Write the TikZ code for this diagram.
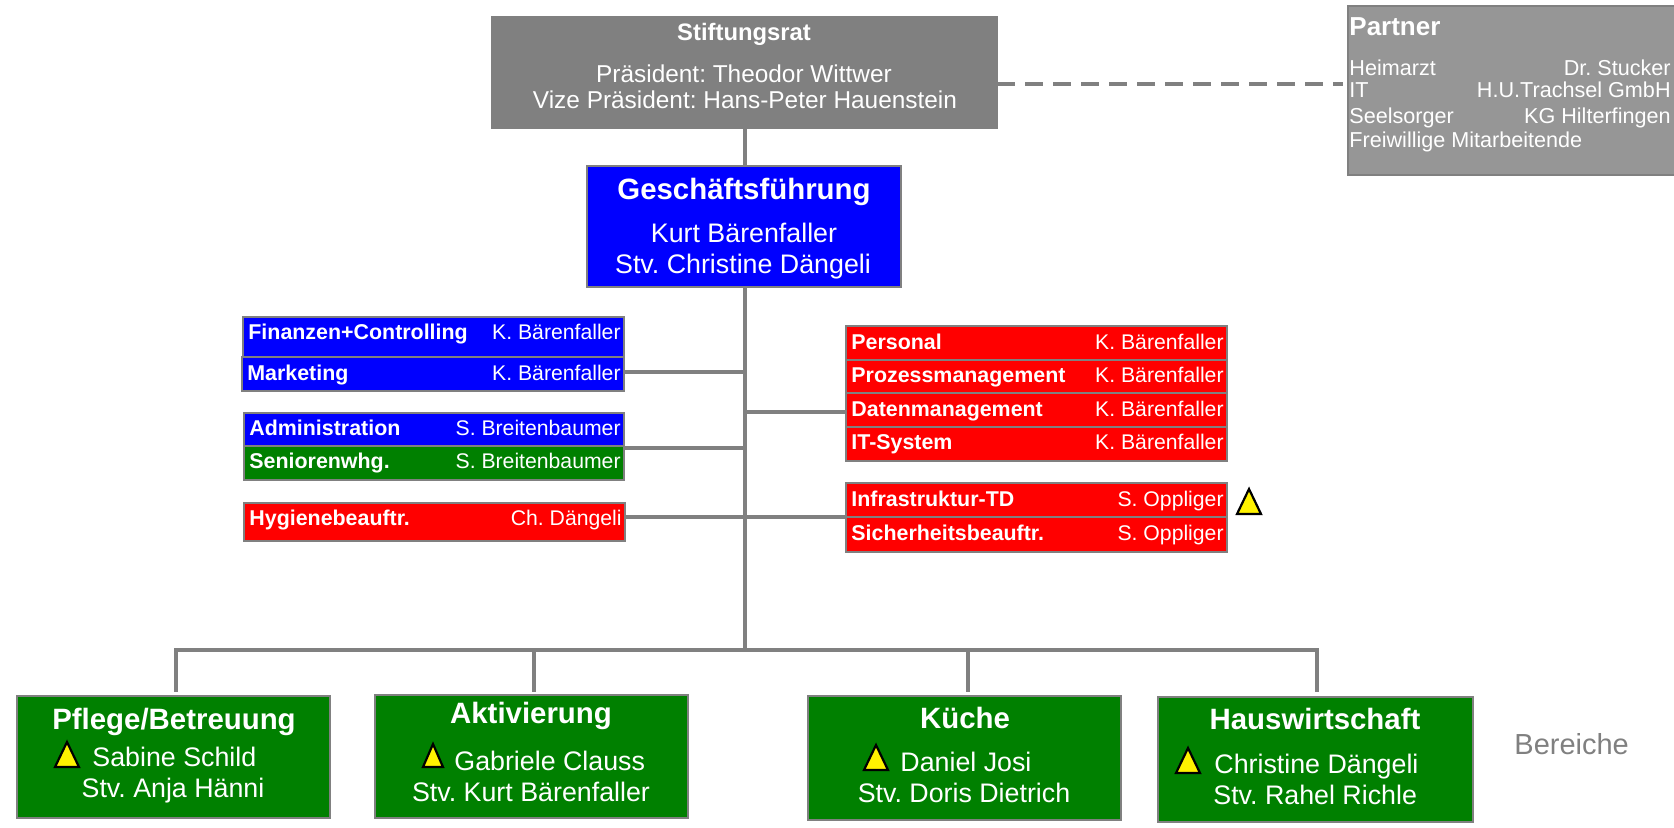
\documentclass[tikz,border=0pt]{standalone}
\usepackage{fontspec}
\setmainfont{Liberation Sans}
\usepackage{xcolor}
\definecolor{orggray}{HTML}{808080}
\definecolor{partnergray}{HTML}{969696}
\definecolor{orgblue}{HTML}{0000FF}
\definecolor{orgred}{HTML}{FF0000}
\definecolor{orggreen}{HTML}{008000}
\tikzset{
    orgbox/.style={draw=orggray, line width=1pt, rectangle, inner sep=0pt, outer sep=0pt},
    orgline/.style={draw=orggray, line width=1.9pt},
    warnmark/.style={draw=black, line width=1.1pt, fill=yellow, line join=miter},
    rowname/.style={anchor=mid west, inner sep=0pt, yshift=-1.5pt, text=white, font=\fontsize{10.7}{13}\selectfont\bfseries},
    rowwho/.style={anchor=mid east, inner sep=0pt, yshift=-1.5pt, text=white, font=\fontsize{10.6}{13}\selectfont},
    partnerrow/.style={inner sep=0pt, yshift=-1pt, text=white, font=\fontsize{10.8}{13}\selectfont},
    headline/.style={anchor=mid, inner sep=0pt, yshift=-2.6pt, text=white, font=\fontsize{14.7}{17}\selectfont\bfseries},
    subline/.style={anchor=mid, inner sep=0pt, yshift=-2pt, text=white, font=\fontsize{13.4}{16}\selectfont},
}

\begin{document}
\frenchspacing
\begin{tikzpicture}[x=0.5pt, y=-0.5pt]
    \useasboundingbox (0, 0) rectangle (1674, 827);

    % big boxes
    \foreach \nm/\xa/\ya/\xb/\yb/\col in {
            stiftung/492/17/997/128/orggray, partner/1348/6/1680/175/partnergray,
            gf/587/166/901/287/orgblue,
            pflege/17/696/330/818/orggreen, aktiv/375/695/688/818/orggreen,
            kueche/808/696/1121/820/orggreen, haus/1158/697/1473/822/orggreen}{
            \node[orgbox, fill=\col, minimum width={(\xb-\xa)*0.5pt}, minimum height={(\yb-\ya)*0.5pt}] (\nm) at ({(\xa+\xb)/2}, {(\ya+\yb)/2}) {};
        }

    % rows beside the trunk
    \foreach \nm/\xa/\ya/\xb/\yb/\col/\lab/\who/\ty in {
            finanzen/243/317/624/357/orgblue/Finanzen+Controlling/K. Bärenfaller/331,
            marketing/242/357/624/391/orgblue/Marketing/K. Bärenfaller/372,
            admin/244/413/624/446/orgblue/Administration/S. Breitenbaumer/427,
            senioren/244/446/624/480/orggreen/Seniorenwhg./S. Breitenbaumer/460,
            hygiene/244/503/625/541/orgred/Hygienebeauftr./Ch. Dängeli/517,
            personal/846/326/1227/360/orgred/Personal/K. Bärenfaller/341,
            prozess/846/360/1227/393/orgred/Prozessmanagement/K. Bärenfaller/374,
            daten/846/393/1227/427/orgred/Datenmanagement/K. Bärenfaller/408,
            itsys/846/427/1227/461/orgred/IT-System/K. Bärenfaller/441,
            infra/846/483/1227/517/orgred/Infrastruktur-TD/S. Oppliger/498,
            sicher/846/517/1227/552/orgred/Sicherheitsbeauftr./S. Oppliger/532}{
            \node[orgbox, fill=\col, minimum width={(\xb-\xa)*0.5pt}, minimum height={(\yb-\ya)*0.5pt}] (\nm) at ({(\xa+\xb)/2}, {(\ya+\yb)/2}) {};
            \node[rowname] (\nm-name) at (\xa+5, \ty) {\lab};
            \node[rowwho] (\nm-who) at (\xb-3, \ty) {\who};
        }

    % box texts
    \node[headline, yshift=1.4pt, font=\fontsize{11.9}{14}\selectfont\bfseries] (stiftung-head) at (744, 33) {Stiftungsrat};
    \node[subline, font=\fontsize{12.2}{14}\selectfont] (stiftung-a) at (744, 73) {Präsident: Theodor Wittwer};
    \node[subline, font=\fontsize{12.2}{14}\selectfont] (stiftung-b) at (745, 99) {Vize Präsident: Hans-Peter Hauenstein};
    \node[headline] (gf-head) at (744, 189) {Geschäftsführung};
    \node[subline] (gf-a) at (744, 233) {Kurt Bärenfaller};
    \node[subline] (gf-b) at (743, 264) {Stv. Christine Dängeli};

    \node[headline] (pflege-head) at (174, 719) {Pflege/Betreuung};
    \node[subline, anchor=mid west] (pflege-a) at (92, 757) {Sabine Schild};
    \node[subline] (pflege-b) at (173, 788) {Stv. Anja Hänni};
    \node[headline] (aktiv-head) at (531, 713) {Aktivierung};
    \node[subline, anchor=mid west] (aktiv-a) at (454, 761) {Gabriele Clauss};
    \node[subline] (aktiv-b) at (531, 792) {Stv. Kurt Bärenfaller};
    \node[headline] (kueche-head) at (965, 718) {Küche};
    \node[subline, anchor=mid west] (kueche-a) at (900, 762) {Daniel Josi};
    \node[subline] (kueche-b) at (964, 793) {Stv. Doris Dietrich};
    \node[headline] (haus-head) at (1315, 719) {Hauswirtschaft};
    \node[subline, anchor=mid west] (haus-a) at (1214, 764) {Christine Dängeli};
    \node[subline, anchor=mid west] (haus-b) at (1213, 795) {Stv. Rahel Richle};
    \node[subline, yshift=-0.5pt, text=orggray, font=\fontsize{14.5}{17}\selectfont, anchor=mid west] (bereiche) at (1514, 744) {Bereiche};

    \node[partnerrow, yshift=-0.5pt, anchor=mid west, text=white, font=\fontsize{13}{15}\selectfont\bfseries] (partner-head) at (1349, 27) {Partner};
    \foreach \nm/\lab/\who/\ty in {
            arzt/Heimarzt/Dr. Stucker/68, it/IT/H.U.Trachsel GmbH/90,
            seel/Seelsorger/KG Hilterfingen/116}{
            \node[partnerrow, anchor=mid west] (\nm-l) at (1349, \ty) {\lab};
            \node[partnerrow, anchor=mid east] (\nm-r) at (1671, \ty) {\who};
        }
    \node[partnerrow, anchor=mid west] (freiw) at (1349, 140) {Freiwillige Mitarbeitende};

    % warning marks
    \foreach \tx/\tb/\th/\tw in {1249/514/25/12, 67/767/25/12, 433/767/23/10, 876/770/25/12, 1188/773/25/12}{
            \draw[warnmark] (\tx-\tw, \tb) -- (\tx, \tb-\th) -- (\tx+\tw, \tb) -- cycle;
        }

    % Trunk
    \coordinate (busmid) at (745, 650);
    \draw[orgline] (stiftung.south -| busmid) -- (gf.north -| busmid);
    \draw[orgline] (gf.south -| busmid) -- (busmid);

    \coordinate (jmarketing) at (745, 372);
    \coordinate (jadmin) at (745, 448);
    \coordinate (jdaten) at (745, 412);
    \coordinate (jhygiene) at (745, 517);
    \draw[orgline] (jmarketing -| marketing.east) -- (jmarketing);
    \draw[orgline] (jadmin -| admin.east) -- (jadmin);
    \draw[orgline] (jdaten) -- (jdaten -| daten.west);
    \draw[orgline] (jhygiene -| hygiene.east) -- (jhygiene -| infra.west);

    % Bus with stubs
    \foreach \nm/\dx in {pflege/176, aktiv/534, kueche/968, haus/1317}{
            \coordinate (bus-\nm) at (\dx, 650);
            \coordinate (stub-\nm) at (\dx, 692);
            \draw[orgline] (bus-\nm) -- (stub-\nm);
        }
    \draw[orgline, line cap=rect] (bus-pflege) -- (bus-haus);

    % Partner link
    \coordinate (jpartner) at (1170, 84);
    \draw[orgline, line width=2pt, dash pattern=on 9pt off 5pt, shorten >=2.5pt] (jpartner -| stiftung.east) -- (jpartner -| partner.west);

\end{tikzpicture}
\end{document}
